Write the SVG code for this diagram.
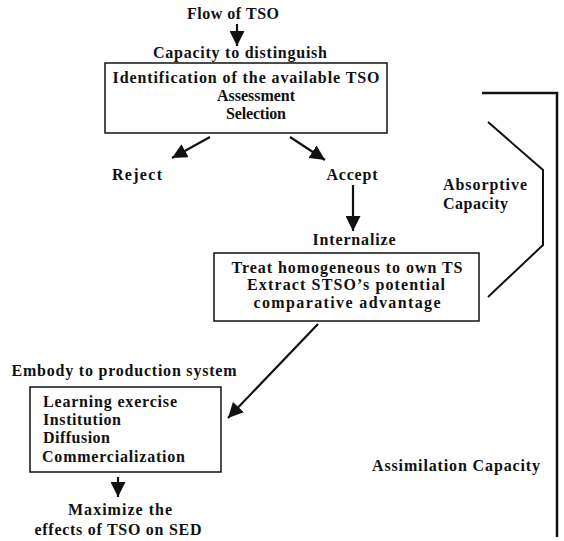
<svg xmlns="http://www.w3.org/2000/svg" width="564" height="541" viewBox="0 0 564 541">
<defs>
<style>
text{font-family:"Liberation Serif","Times New Roman",serif;font-weight:bold;font-size:16px;fill:#111}
.c{text-anchor:middle}
.box{fill:#fff;stroke:#111;stroke-width:1.5}
.ln{fill:none;stroke:#111;stroke-width:2.2}
.br{fill:none;stroke:#111;stroke-width:2}
</style>
<marker id="ah" markerUnits="userSpaceOnUse" markerWidth="16" markerHeight="15" refX="15" refY="7.5" orient="auto">
<path d="M0,0 L15,7.5 L0,15 z" fill="#111"/>
</marker>
</defs>
<rect width="564" height="541" fill="#fff"/>
<g id="flow"><text class="c" x="233" y="19" textLength="92" lengthAdjust="spacing">Flow of TSO</text></g>
<g id="capacity"><text class="c" x="240" y="58" textLength="174" lengthAdjust="spacing">Capacity to distinguish</text></g>
<g id="box1">
<rect class="box" x="105" y="63" width="282" height="70"/>
<text class="c" x="246" y="83" textLength="267" lengthAdjust="spacing">Identification of the available TSO</text>
<text class="c" x="256" y="101" textLength="78" lengthAdjust="spacing">Assessment</text>
<text class="c" x="256" y="119" textLength="60" lengthAdjust="spacing">Selection</text>
</g>
<g id="reject"><text class="c" x="137" y="180" textLength="50" lengthAdjust="spacing">Reject</text></g>
<g id="accept"><text class="c" x="352" y="180" textLength="51" lengthAdjust="spacing">Accept</text></g>
<g id="internalize"><text class="c" x="354" y="245" textLength="83" lengthAdjust="spacing">Internalize</text></g>
<g id="box2">
<rect class="box" x="214" y="253" width="265" height="68"/>
<text class="c" x="347" y="273" textLength="231" lengthAdjust="spacing">Treat homogeneous to own TS</text>
<text class="c" x="346" y="290" textLength="198" lengthAdjust="spacing">Extract STSO’s potential</text>
<text class="c" x="347" y="308" textLength="187" lengthAdjust="spacing">comparative advantage</text>
</g>
<g id="absorptive">
<text x="443" y="190" textLength="84" lengthAdjust="spacing">Absorptive</text>
<text x="443" y="209" textLength="65" lengthAdjust="spacing">Capacity</text>
</g>
<g id="embody"><text class="c" x="124" y="376" textLength="225" lengthAdjust="spacing">Embody to production system</text></g>
<g id="box3">
<rect class="box" x="30" y="387" width="191" height="85"/>
<text x="43" y="407" textLength="134" lengthAdjust="spacing">Learning exercise</text>
<text x="43" y="425" textLength="78" lengthAdjust="spacing">Institution</text>
<text x="43" y="443" textLength="67" lengthAdjust="spacing">Diffusion</text>
<text x="42" y="462" textLength="143" lengthAdjust="spacing">Commercialization</text>
</g>
<g id="maximize">
<text class="c" x="120" y="515" textLength="104" lengthAdjust="spacing">Maximize the</text>
<text class="c" x="118" y="535" textLength="167" lengthAdjust="spacing">effects of TSO on SED</text>
</g>
<g id="assimilation"><text x="372" y="471" textLength="168" lengthAdjust="spacing">Assimilation Capacity</text></g>
<g id="connectors">
<line class="ln" x1="237" y1="24" x2="237" y2="46" marker-end="url(#ah)"/>
<line class="ln" x1="210" y1="137" x2="172" y2="158" marker-end="url(#ah)"/>
<line class="ln" x1="290" y1="137" x2="325" y2="160" marker-end="url(#ah)"/>
<line class="ln" x1="353" y1="185" x2="353" y2="231" marker-end="url(#ah)"/>
<line class="ln" x1="318" y1="324" x2="228" y2="418" marker-end="url(#ah)"/>
<line class="ln" x1="118" y1="477" x2="118" y2="497" marker-end="url(#ah)"/>
<polyline class="br" points="488,122 543,170 543,245 488,297"/>
<polyline class="br" points="482,93 557,93 557,537" style="stroke-width:2.5"/>
</g>
</svg>
